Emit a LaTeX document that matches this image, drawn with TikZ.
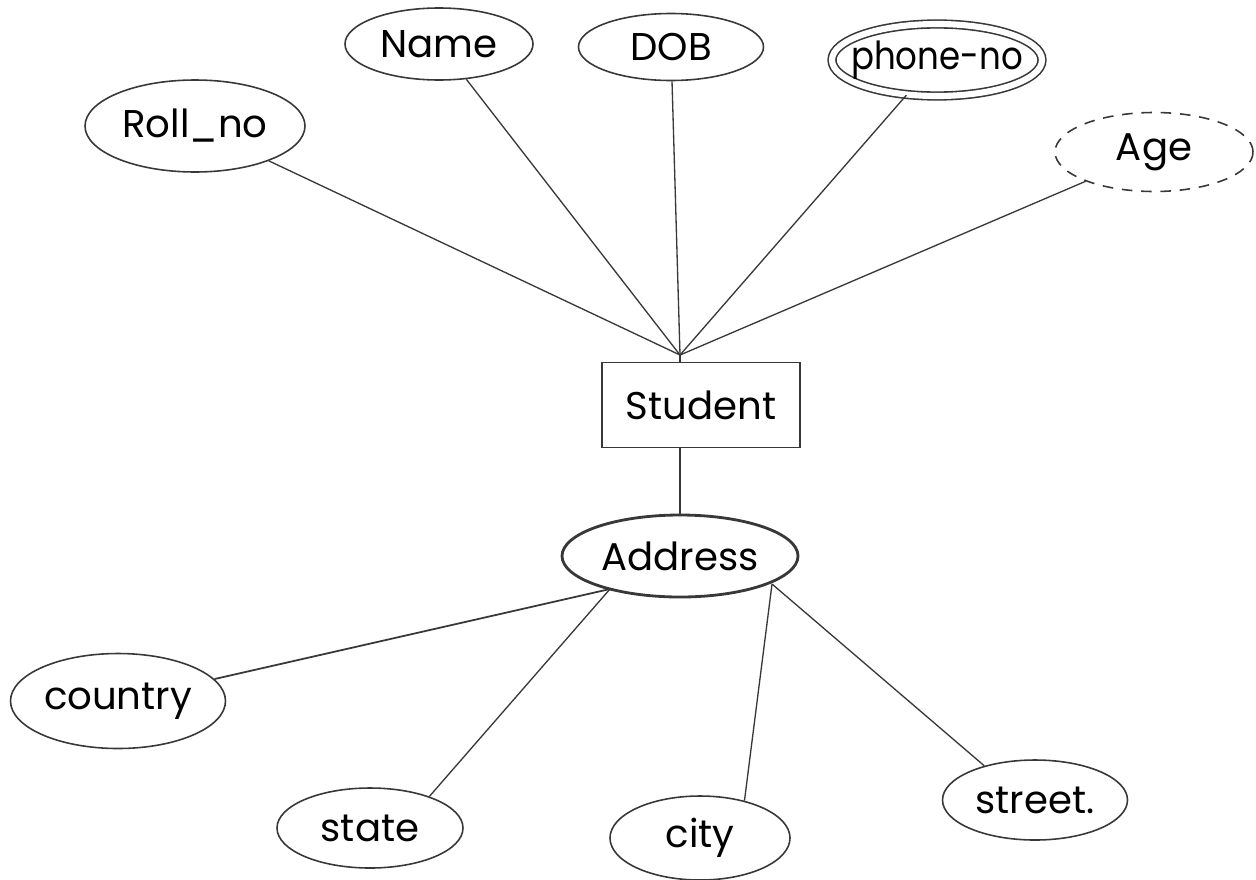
\documentclass[tikz,border=0pt]{standalone}
\usepackage{fontspec}
\setmainfont{Poppins}
\usetikzlibrary{shapes.geometric}
% text whose width does not enlarge its node
\newcommand\fixedtext[2][1]{\makebox[0pt]{\scalebox{#1}[1]{#2}}}
\begin{document}
\begin{tikzpicture}[x=0.02cm,y=-0.02cm,
  ink/.style={draw=black!78},
  sz/.style 2 args={minimum width=#1*0.02cm, minimum height=#2*0.02cm},
  label font/.style={font=\fontsize{22}{26}\selectfont},
  attr/.style={ink, ellipse, line width=0.9pt, inner sep=0pt, label font},
  multiattr/.style={attr, double, double distance=3.5pt},
  derived/.style={attr, dashed, dash pattern=on 6pt off 5pt},
  composite/.style={attr, line width=1.6pt},
  entity/.style={ink, rectangle, line width=1.1pt, inner sep=0pt, label font},
  link/.style={ink, line width=0.75pt}]
\useasboundingbox[fill=white] (0,0) rectangle (1256,879);

% entity
\node[entity, sz={198}{85}] (student) at (701,405) {Student};

% attributes of Student
\node[attr, sz={220}{92}] (roll) at (195,126) {\fixedtext{Roll\_no}};
\node[attr, sz={188}{72}] (name) at (439,44) {\fixedtext{Name}};
\node[attr, sz={185}{67}] (dob) at (671,47) {\fixedtext{DOB}};
\node[multiattr, sz={210}{72}] (phone) at (937,60) {\fixedtext[0.88]{phone-no}};
\node[derived, sz={198}{79}] (age) at (1154,152) {\fixedtext{Age}};

% composite attribute and its parts
\node[composite, sz={236}{82}] (address) at (680,556) {\fixedtext{Address}};
\node[attr, sz={215}{95}] (country) at (118,701) {\fixedtext{country}};
\node[attr, sz={186}{80}] (state) at (370,828) {\fixedtext{state}};
\node[attr, sz={180}{84}] (city) at (700,838) {\fixedtext{city}};
\node[attr, sz={185}{80}] (street) at (1035,800) {\fixedtext{street.}};

% meeting point above the entity
\coordinate (hub) at (680,355);
\coordinate (aL) at (610,589);
\coordinate (aR) at (772,584);

\draw[link] (roll) -- (hub);
\draw[link] (name) -- (hub);
\draw[link] (dob) -- (hub);
\draw[link] (phone) -- (hub);
\draw[link] (age) -- (hub);
\draw[link] (hub) -- (hub |- student.north);

\draw[link] (address.north |- student.south) -- (address.north);

\draw[link, line width=1pt] (aL) -- (country);
\draw[link] (aL) -- (state.28);
\draw[link] (aR) -- (city.40);
\draw[link] (aR) -- (street.146);
\end{tikzpicture}
\end{document}
